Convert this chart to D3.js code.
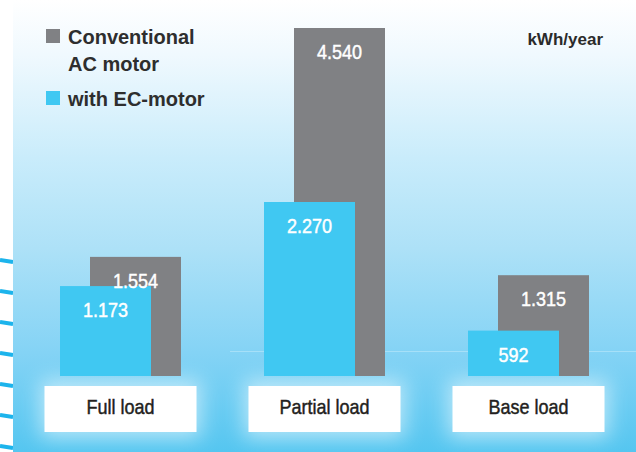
<!DOCTYPE html>
<html>
<head>
	<meta charset="utf-8">
	<script src="https://cdnjs.cloudflare.com/ajax/libs/d3/7.8.5/d3.min.js"></script>
	<style>
		body { margin: 0; background: #fff; }
		svg { display: block; }
		.legend-text { font-family: 'Liberation Sans', Arial, sans-serif; font-weight: bold; font-size: 20px; fill: #2e2e2e; }
		.unit { font-family: 'Liberation Sans', Arial, sans-serif; font-weight: bold; font-size: 17px; fill: #2b2b2b; text-anchor: end; }
		.value { font-family: 'Liberation Sans', Arial, sans-serif; font-size: 20px; fill: #ffffff; stroke: #ffffff; stroke-width: 0.45px; text-anchor: middle; }
		.cat { font-family: 'Liberation Sans', Arial, sans-serif; font-size: 20px; fill: #231f20; stroke: #231f20; stroke-width: 0.45px; text-anchor: middle; }
	</style>
</head>
<body>
<div id="chart"></div>
<script>

//////////////////////// Data ////////////////////////
var categories = ["Full load", "Partial load", "Base load"];
var conventional = [1554, 4540, 1315];
var ecMotor = [1173, 2270, 592];
var conventionalLabels = ["1.554", "4.540", "1.315"];
var ecMotorLabels = ["1.173", "2.270", "592"];
var seriesNames = [["Conventional", "AC motor"], ["with EC-motor"]];
var unitLabel = "kWh/year";

var colGray = "#808184",
	colBlue = "#40c8f2";

var width = 636, height = 452;
var panelLeft = 13,
	plotTop = 28, plotBottom = 376,
	barW = 91, offset = 30,
	squeeze = 0.9; //condensed look for the Helvetica-like labels

var svg = d3.select("#chart").append("svg")
	.attr("width", width)
	.attr("height", height);

var defs = svg.append("defs");

//Background gradient of the panel
defs.append("linearGradient")
	.attr("id", "bgGrad")
	.attr("x1", "0%").attr("y1", "0%")
	.attr("x2", "0%").attr("y2", "100%")
	.selectAll("stop")
	.data([
		{offset: "0%", color: "#ffffff"},
		{offset: "12%", color: "#f0f9fe"},
		{offset: "35%", color: "#c9ecfb"},
		{offset: "55%", color: "#ade1f7"},
		{offset: "78%", color: "#84d3f5"},
		{offset: "100%", color: "#55c6f0"}
	])
	.enter().append("stop")
	.attr("offset", function(d) { return d.offset; })
	.attr("stop-color", function(d) { return d.color; });

defs.append("filter")
	.attr("id", "glow")
	.attr("x", "-30%").attr("y", "-80%")
	.attr("width", "160%").attr("height", "260%")
	.append("feGaussianBlur")
	.attr("stdDeviation", 10);

//Left white strip with blue dashes
var stripeY = d3.range(7).map(function(i) { return 261 + i * 31; });
svg.selectAll(".stripe")
	.data(stripeY)
	.enter().append("line")
	.attr("class", "stripe")
	.attr("x1", 0).attr("x2", panelLeft)
	.attr("y1", function(d) { return d - 1; })
	.attr("y2", function(d) { return d + 1; })
	.style("stroke", "#1cb4ec")
	.style("stroke-width", 4);

svg.append("rect")
	.attr("x", panelLeft).attr("y", 0)
	.attr("width", width - panelLeft).attr("height", height)
	.style("fill", "url(#bgGrad)");

//////////////////////// Scales ////////////////////////
var x = d3.scaleBand()
	.domain(categories)
	.range([18.5, 630.5]);

var y = d3.scaleLinear()
	.domain([0, d3.max(conventional)])
	.range([plotBottom, plotTop]);

function center(d) { return x(d) + x.bandwidth() / 2; }

//Faint horizontal line behind the bars
svg.append("line")
	.attr("x1", 230).attr("x2", width)
	.attr("y1", 351.5).attr("y2", 351.5)
	.style("stroke", "#a6e0f8")
	.style("stroke-width", 1);

//Glow under the category boxes
svg.selectAll(".glow")
	.data(categories)
	.enter().append("rect")
	.attr("class", "glow")
	.attr("x", function(d) { return center(d) - 80; })
	.attr("y", 380)
	.attr("width", 160)
	.attr("height", 58)
	.style("fill", "#ffffff")
	.style("opacity", 0.55)
	.attr("filter", "url(#glow)");

//////////////////////// Bars ////////////////////////
var data = categories.map(function(c, i) {
	return {cat: c, conv: conventional[i], ec: ecMotor[i], convLabel: conventionalLabels[i], ecLabel: ecMotorLabels[i]};
});

svg.selectAll(".barConv")
	.data(data)
	.enter().append("rect")
	.attr("class", "barConv")
	.attr("x", function(d) { return center(d.cat) - barW / 2 + offset / 2; })
	.attr("y", function(d) { return y(d.conv); })
	.attr("width", barW)
	.attr("height", function(d) { return y(0) - y(d.conv); })
	.style("fill", colGray);

svg.selectAll(".barEc")
	.data(data)
	.enter().append("rect")
	.attr("class", "barEc")
	.attr("x", function(d) { return center(d.cat) - barW / 2 - offset / 2; })
	.attr("y", function(d) { return y(d.ec); })
	.attr("width", barW)
	.attr("height", function(d) { return y(0) - y(d.ec); })
	.style("fill", colBlue);

//Value labels (squeezed horizontally)
svg.selectAll(".valConv")
	.data(data)
	.enter().append("text")
	.attr("class", "value")
	.attr("transform", function(d) {
		return "translate(" + (center(d.cat) + offset / 2) + "," + (y(d.conv) + 31) + ") scale(" + squeeze + ",1)";
	})
	.text(function(d) { return d.convLabel; });

svg.selectAll(".valEc")
	.data(data)
	.enter().append("text")
	.attr("class", "value")
	.attr("transform", function(d) {
		return "translate(" + (center(d.cat) - offset / 2) + "," + (y(d.ec) + 31) + ") scale(" + squeeze + ",1)";
	})
	.text(function(d) { return d.ecLabel; });

//////////////////////// Category boxes ////////////////////////
svg.selectAll(".catBox")
	.data(categories)
	.enter().append("rect")
	.attr("class", "catBox")
	.attr("x", function(d) { return center(d) - 76; })
	.attr("y", 386)
	.attr("width", 152)
	.attr("height", 46)
	.style("fill", "#ffffff");

svg.selectAll(".cat")
	.data(categories)
	.enter().append("text")
	.attr("class", "cat")
	.attr("transform", function(d) { return "translate(" + center(d) + ",413.5) scale(" + squeeze + ",1)"; })
	.text(function(d) { return d; });

//////////////////////// Legend ////////////////////////
var legend = [
	{color: colGray, lines: seriesNames[0], y: 29},
	{color: colBlue, lines: seriesNames[1], y: 91}
];

var lg = svg.selectAll(".legend")
	.data(legend)
	.enter().append("g")
	.attr("class", "legend");

lg.append("rect")
	.attr("x", 46)
	.attr("y", function(d) { return d.y; })
	.attr("width", 14)
	.attr("height", 14)
	.style("fill", function(d) { return d.color; });

lg.each(function(d) {
	var t = d3.select(this).append("text")
		.attr("class", "legend-text")
		.attr("x", 68)
		.attr("y", d.y + 14.5);
	t.selectAll("tspan")
		.data(d.lines)
		.enter().append("tspan")
		.attr("x", 68)
		.attr("dy", function(l, i) { return i === 0 ? 0 : 27; })
		.text(function(l) { return l; });
});

svg.append("text")
	.attr("class", "unit")
	.attr("x", 603)
	.attr("y", 45)
	.text(unitLabel);

</script>
</body>
</html>
